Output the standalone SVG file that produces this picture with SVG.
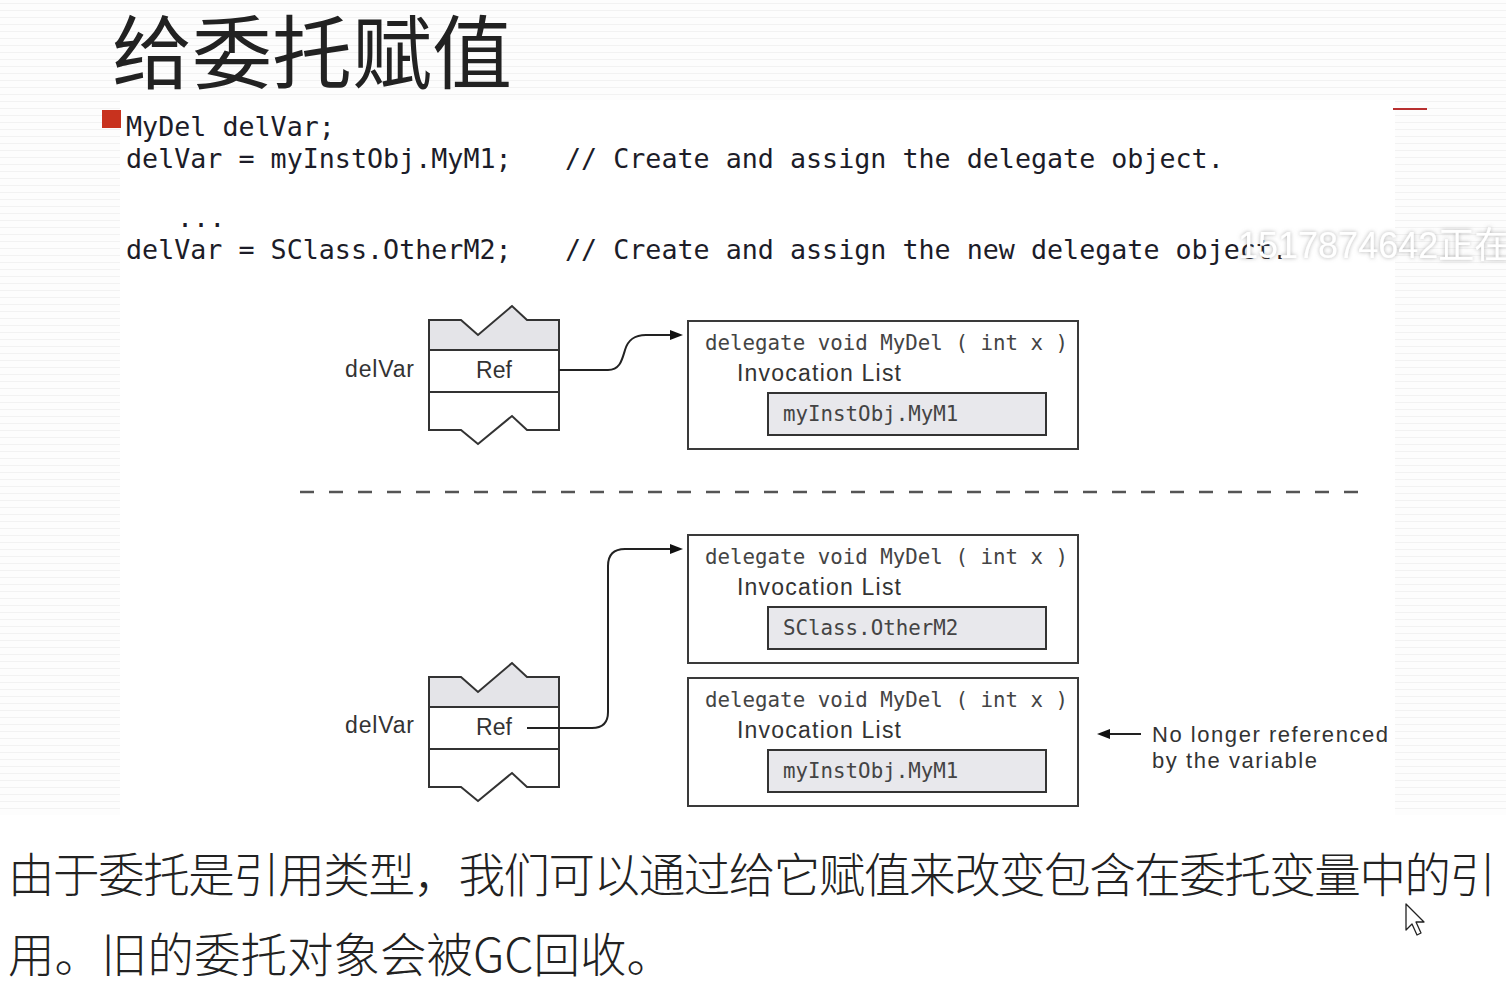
<svg xmlns="http://www.w3.org/2000/svg" width="1506" height="984" viewBox="0 0 1506 984">
<style>
.code{font-family:"DejaVu Sans Mono","Liberation Mono",monospace;font-size:26.7px;fill:#1c1c28;}
.mono{font-family:"DejaVu Sans Mono","Liberation Mono",monospace;font-size:20.8px;fill:#444;}
.sans{font-family:"Liberation Sans",Arial,sans-serif;fill:#333;}
.cjk{font-family:"Noto Sans CJK SC",sans-serif;fill:#222;}
.box{fill:#fff;stroke:#3a3a3a;stroke-width:2;}
.inner{fill:#e8e8ec;stroke:#333;stroke-width:2;}
.shade{fill:#e4e4e8;stroke:#333;stroke-width:2;stroke-linejoin:miter;}
.cell{fill:#fff;stroke:#333;stroke-width:2;}
.conn{fill:none;stroke:#222;stroke-width:2;}
</style>
<defs>
<pattern id="lines" width="20" height="7" patternUnits="userSpaceOnUse">
<rect width="20" height="7" fill="#fdfdfd"/>
<rect y="3" width="20" height="1" fill="#f2f2f2"/>
</pattern>
<marker id="arr" markerWidth="14" markerHeight="12" refX="1" refY="5" orient="auto" markerUnits="userSpaceOnUse">
<path d="M0,0 L13,5 L0,10 Z" fill="#111"/>
</marker>
<filter id="sh" x="-10%" y="-30%" width="120%" height="160%">
<feDropShadow dx="0" dy="0" stdDeviation="2" flood-color="#777" flood-opacity="0.6"/>
</filter>
</defs>
<rect width="1506" height="984" fill="#fff"/>
<rect x="0" y="0" width="1506" height="815" fill="url(#lines)"/>
<rect x="120" y="100" width="1275" height="715" fill="#fff"/>
<rect x="0" y="815" width="1506" height="169" fill="#fff"/>

<g id="title">
<text x="112" y="82" class="cjk" font-size="80" fill="#111">给委托赋值</text>
</g>
<line x1="1393" y1="109" x2="1427" y2="109" stroke="#b83030" stroke-width="2"/>

<g id="code">
<rect x="102" y="110" width="19" height="18" fill="#c8321e"/>
<text x="126" y="136" class="code">MyDel delVar;</text>
<text x="126" y="168" class="code">delVar = myInstObj.MyM1;</text>
<text x="565" y="168" class="code">// Create and assign the delegate object.</text>
<text x="177" y="227" class="code">...</text>
<text x="126" y="259" class="code">delVar = SClass.OtherM2;</text>
<text x="565" y="259" class="code">// Create and assign the new delegate object.</text>
</g>

<g id="watermark" filter="url(#sh)">
<text x="1238" y="258" font-family="Liberation Sans,Noto Sans CJK SC,sans-serif" font-size="36" fill="#fff">1517874642正在</text>
</g>

<g id="var1">
<text x="345" y="377" class="sans" font-size="23" textLength="69">delVar</text>
<path class="shade" d="M429,320 H461 L478,335 L512,306 L527,320 H559 V350 H429 Z"/>
<rect class="cell" x="429" y="350" width="130" height="42"/>
<path class="cell" d="M429,392 H559 V430 H527 L512,416 L478,444 L461,430 H429 Z"/>
<text x="494" y="378" class="sans" font-size="23" text-anchor="middle">Ref</text>
</g>

<g id="delegate1">
<rect class="box" x="688" y="321" width="390" height="128"/>
<text x="705" y="350" class="mono">delegate void MyDel ( int x )</text>
<text x="737" y="381" class="sans" font-size="23" textLength="164">Invocation List</text>
<rect class="inner" x="768" y="393" width="278" height="42"/>
<text x="783" y="421" class="mono">myInstObj.MyM1</text>
</g>

<line x1="300" y1="492" x2="1372" y2="492" stroke="#555" stroke-width="2.5" stroke-dasharray="14 15"/>

<g id="var2">
<text x="345" y="733" class="sans" font-size="23" textLength="69">delVar</text>
<path class="shade" d="M429,677 H461 L478,692 L512,663 L527,677 H559 V707 H429 Z"/>
<rect class="cell" x="429" y="707" width="130" height="42"/>
<path class="cell" d="M429,749 H559 V787 H527 L512,773 L478,801 L461,787 H429 Z"/>
<text x="494" y="735" class="sans" font-size="23" text-anchor="middle">Ref</text>
</g>

<g id="delegate2">
<rect class="box" x="688" y="535" width="390" height="128"/>
<text x="705" y="564" class="mono">delegate void MyDel ( int x )</text>
<text x="737" y="595" class="sans" font-size="23" textLength="164">Invocation List</text>
<rect class="inner" x="768" y="607" width="278" height="42"/>
<text x="783" y="635" class="mono">SClass.OtherM2</text>
</g>

<g id="delegate3">
<rect class="box" x="688" y="678" width="390" height="128"/>
<text x="705" y="707" class="mono">delegate void MyDel ( int x )</text>
<text x="737" y="738" class="sans" font-size="23" textLength="164">Invocation List</text>
<rect class="inner" x="768" y="750" width="278" height="42"/>
<text x="783" y="778" class="mono">myInstObj.MyM1</text>
</g>

<g id="note">
<text x="1152" y="742" class="sans" font-size="22" textLength="236">No longer referenced</text>
<text x="1152" y="768" class="sans" font-size="22" textLength="165">by the variable</text>
</g>

<g id="connectors">
<path class="conn" d="M559,370 H608 C620,370 622,360 625,350 C628,340 634,335 646,335 H671" marker-end="url(#arr)"/>
<path class="conn" d="M527,728 H592 Q608,728 608,712 V566 Q608,549 625,549 H671" marker-end="url(#arr)"/>
<path class="conn" d="M1141,734 H1109" marker-end="url(#arr)"/>
</g>

<g id="body">
<text x="8" y="892" class="cjk" font-size="46.5" font-weight="300" fill="#2a2a2a" textLength="1488">由于委托是引用类型，我们可以通过给它赋值来改变包含在委托变量中的引</text>
<text x="8" y="972" class="cjk" font-size="46.5" font-weight="300" fill="#2a2a2a">用。旧的委托对象会被GC回收。</text>
</g>

<g id="cursor">
<path d="M1406,904 V930 L1412,924 L1417,935 L1421,933 L1416,922 L1424,922 Z" fill="#fff" stroke="#222" stroke-width="1.3" stroke-linejoin="round"/>
</g>
</svg>
